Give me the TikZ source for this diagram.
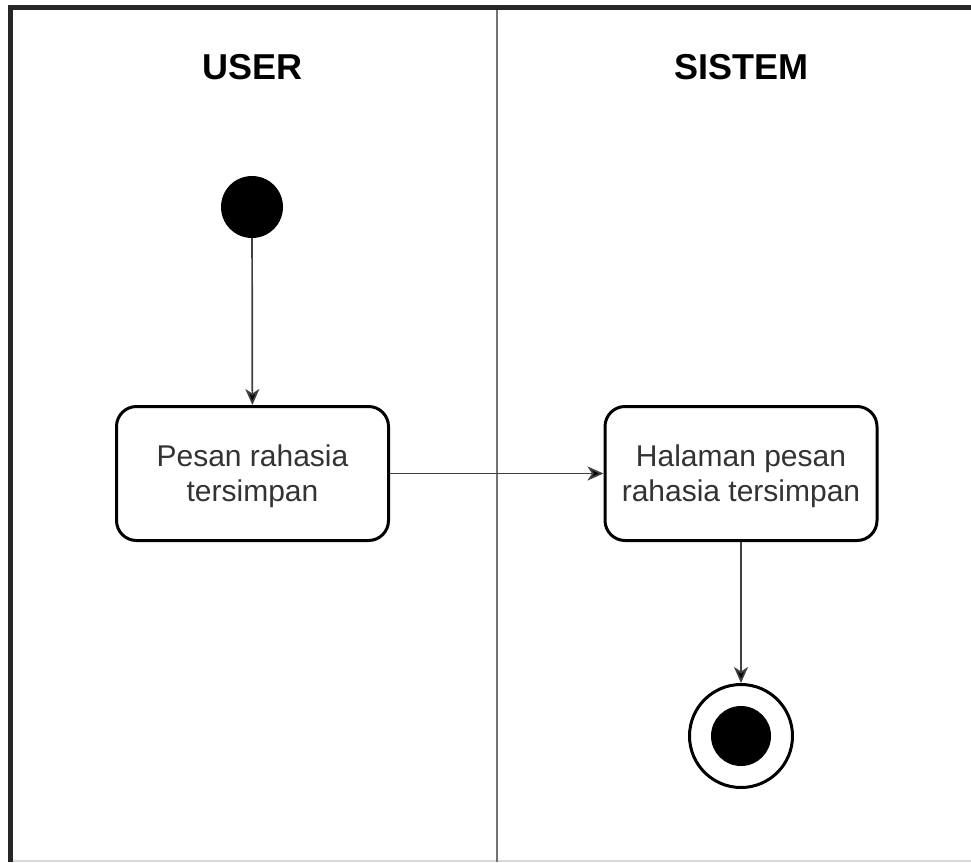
\documentclass[tikz,border=0pt]{standalone}
\usepackage{fontspec}
\setmainfont{Liberation Sans}
\usetikzlibrary{arrows.meta}
% taller first line so the two-line captions sit a little lower in their boxes
\newcommand{\firstlinestrut}{\rule{0pt}{28pt}}
\begin{document}
\begin{tikzpicture}[x=1pt,y=-1pt,
  lanehead/.style={font=\fontsize{36}{40}\selectfont\bfseries, text=black, anchor=base},
  action/.style={draw=black, line width=3pt, rounded corners=20pt, fill=white,
    minimum width=272pt, minimum height=134pt, inner sep=0pt, align=center,
    text=black!80, font=\fontsize{30}{35}\selectfont},
  flow/.style={draw=black!75, line width=1.7pt,
    -{Stealth[length=16pt,width=14pt,inset=4.5pt,fill=black]}},
  startdot/.style={circle, fill=black, minimum size=62pt, inner sep=0pt},
  enddot/.style={circle, draw=black, line width=3pt, fill=white, minimum size=103pt, inner sep=0pt},
  enddotcore/.style={circle, fill=black, minimum size=60pt, inner sep=0pt}]
  \useasboundingbox (0,0) rectangle (971,862);
  % swimlane frame
  \draw[black!15, line width=2pt] (10,861) -- (971,861);
  \draw[black!55, line width=2.5pt] (497,7.5) -- (497,862);
  \draw[black!85, line width=4.5pt] (10.5,862) -- (10.5,7.5) -- (971,7.5);
  % lane titles
  \node[lanehead] (user) at (252.5,79) {USER};
  \node[lanehead] (sistem) at (741,79) {SISTEM};
  % activity nodes
  \node[startdot] (start) at (252,207) {};
  \node[action] (pesan) at (252.5,473.5) {\firstlinestrut Pesan rahasia\\tersimpan};
  \node[action] (halaman) at (741,473.5) {\firstlinestrut Halaman pesan\\rahasia tersimpan};
  \node[enddot] (final) at (741,736) {};
  \node[enddotcore] (finalcore) at (741,736) {};
  % control flow
  \draw[flow] (start) -- (pesan);
  \draw[flow] (pesan) -- (halaman);
  \draw[flow] (halaman) -- (final);
\end{tikzpicture}
\end{document}
